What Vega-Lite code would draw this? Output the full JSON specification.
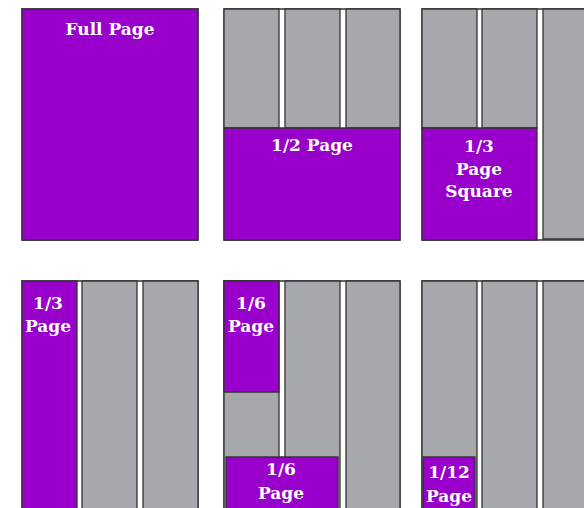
{
  "$schema": "https://vega.github.io/schema/vega-lite/v6.json",
  "width": 584,
  "height": 508,
  "padding": 0,
  "autosize": "none",
  "config": {"view": {"stroke": null}},
  "datasets": {
    "rects": [
      {"id": 1, "kind": "page", "x": 22, "x2": 198, "y": 9, "y2": 240},
      {"id": 2, "kind": "ad", "x": 22, "x2": 198, "y": 9, "y2": 240},
      {"id": 3, "kind": "page", "x": 224, "x2": 400, "y": 9, "y2": 240},
      {"id": 4, "kind": "column", "x": 224, "x2": 279, "y": 9, "y2": 128},
      {"id": 5, "kind": "column", "x": 285, "x2": 340, "y": 9, "y2": 128},
      {"id": 6, "kind": "column", "x": 346, "x2": 400, "y": 9, "y2": 128},
      {"id": 7, "kind": "ad", "x": 224, "x2": 400, "y": 128, "y2": 240},
      {"id": 8, "kind": "page", "x": 422, "x2": 598, "y": 9, "y2": 240},
      {"id": 9, "kind": "column", "x": 422, "x2": 477, "y": 9, "y2": 128},
      {"id": 10, "kind": "column", "x": 482, "x2": 537, "y": 9, "y2": 128},
      {"id": 11, "kind": "column", "x": 543, "x2": 598, "y": 9, "y2": 239},
      {"id": 12, "kind": "ad", "x": 422, "x2": 537, "y": 128, "y2": 240},
      {"id": 13, "kind": "page", "x": 22, "x2": 198, "y": 281, "y2": 512},
      {"id": 14, "kind": "column", "x": 82, "x2": 137, "y": 281, "y2": 512},
      {"id": 15, "kind": "column", "x": 143, "x2": 198, "y": 281, "y2": 512},
      {"id": 16, "kind": "ad", "x": 22, "x2": 77, "y": 281, "y2": 512},
      {"id": 17, "kind": "page", "x": 224, "x2": 400, "y": 281, "y2": 512},
      {"id": 18, "kind": "column", "x": 224, "x2": 279, "y": 281, "y2": 512},
      {"id": 19, "kind": "column", "x": 285, "x2": 340, "y": 281, "y2": 512},
      {"id": 20, "kind": "column", "x": 346, "x2": 400, "y": 281, "y2": 512},
      {"id": 21, "kind": "ad", "x": 224, "x2": 279, "y": 281, "y2": 392},
      {"id": 22, "kind": "ad", "x": 226, "x2": 338, "y": 457, "y2": 512},
      {"id": 23, "kind": "page", "x": 422, "x2": 598, "y": 281, "y2": 512},
      {"id": 24, "kind": "column", "x": 422, "x2": 477, "y": 281, "y2": 512},
      {"id": 25, "kind": "column", "x": 482, "x2": 537, "y": 281, "y2": 512},
      {"id": 26, "kind": "column", "x": 543, "x2": 598, "y": 281, "y2": 512},
      {"id": 27, "kind": "ad", "x": 423, "x2": 475, "y": 457, "y2": 512}
    ],
    "labels": [
      {"text": "Full Page", "x": 110, "y": 30},
      {"text": "1/2 Page", "x": 312, "y": 146},
      {"text": "1/3", "x": 479, "y": 147},
      {"text": "Page", "x": 479, "y": 170},
      {"text": "Square", "x": 479, "y": 192},
      {"text": "1/3", "x": 48, "y": 304},
      {"text": "Page", "x": 48, "y": 327},
      {"text": "1/6", "x": 251, "y": 304},
      {"text": "Page", "x": 251, "y": 327},
      {"text": "1/6", "x": 281, "y": 470},
      {"text": "Page", "x": 281, "y": 494},
      {"text": "1/12", "x": 449, "y": 473},
      {"text": "Page", "x": 449, "y": 497}
    ]
  },
  "layer": [
    {
      "data": {"name": "rects"},
      "mark": {"type": "rect", "stroke": "#333333", "strokeWidth": 1.3, "clip": true},
      "encoding": {
        "x": {"field": "x", "type": "quantitative", "scale": {"domain": [0, 584], "nice": false, "zero": false}, "axis": null},
        "x2": {"field": "x2"},
        "y": {"field": "y", "type": "quantitative", "scale": {"domain": [0, 508], "nice": false, "zero": false, "reverse": true}, "axis": null},
        "y2": {"field": "y2"},
        "color": {"field": "kind", "type": "nominal", "legend": null, "scale": {"domain": ["page", "column", "ad"], "range": ["#ffffff", "#a7a8ab", "#9900cc"]}},
        "order": {"field": "id", "type": "quantitative"}
      }
    },
    {
      "data": {"name": "labels"},
      "mark": {"type": "text", "font": "DejaVu Serif", "fontWeight": "bold", "fontSize": 17, "color": "#ffffff", "align": "center", "baseline": "middle"},
      "encoding": {
        "x": {"field": "x", "type": "quantitative"},
        "y": {"field": "y", "type": "quantitative"},
        "text": {"field": "text"}
      }
    }
  ]
}
